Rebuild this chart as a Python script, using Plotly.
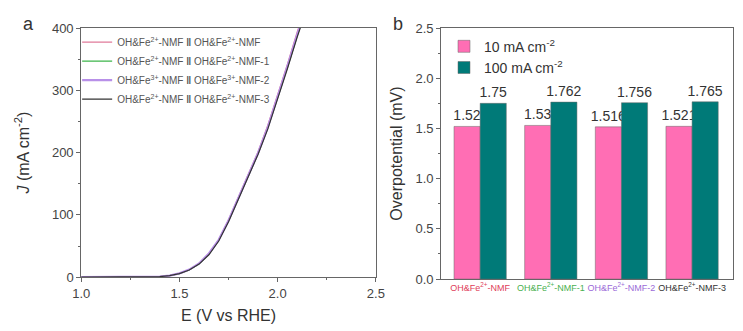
import plotly.graph_objects as go

# ---------- Data ----------
E = [1.00, 1.10, 1.20, 1.30, 1.40, 1.45, 1.50, 1.55, 1.60, 1.65, 1.70, 1.75,
     1.80, 1.85, 1.90, 1.95, 2.00, 2.05, 2.10, 2.115]
J1 = [0.0, 0.0, 0.1, 0.3, 1.0, 2.5, 6, 12, 22, 38, 60, 92, 128, 165, 201, 244, 292, 342, 394, 408]
J2 = [0.0, 0.0, 0.1, 0.3, 1.0, 2.4, 5.8, 11.6, 21, 37, 59, 90, 126, 162, 198, 240, 287, 337, 388, 402]
J3 = [0.0, 0.0, 0.1, 0.3, 1.1, 2.6, 6.1, 12.2, 22, 38, 60, 91, 127, 163, 199, 241, 289, 339, 390, 404]
J4 = [0.0, 0.0, 0.1, 0.3, 1.0, 2.4, 5.7, 11.5, 21, 36, 58, 89, 125, 161, 197, 238, 285, 335, 386, 400]

series_names = [
    "OH&Fe<sup>2+</sup>-NMF <b>‖</b> OH&Fe<sup>2+</sup>-NMF",
    "OH&Fe<sup>2+</sup>-NMF <b>‖</b> OH&Fe<sup>2+</sup>-NMF-1",
    "OH&Fe<sup>3+</sup>-NMF <b>‖</b> OH&Fe<sup>3+</sup>-NMF-2",
    "OH&Fe<sup>2+</sup>-NMF <b>‖</b> OH&Fe<sup>2+</sup>-NMF-3",
]
line_colors = ["#E07A9A", "#3DB54A", "#B890E8", "#333333"]
line_widths = [1.2, 1.2, 2.2, 1.2]

categories = ["OH&Fe<sup>2+</sup>-NMF", "OH&Fe<sup>2+</sup>-NMF-1",
              "OH&Fe<sup>2+</sup>-NMF-2", "OH&Fe<sup>2+</sup>-NMF-3"]
cat_colors = ["#E0405A", "#49B04F", "#9B6AD8", "#333333"]
eta10 = [1.52, 1.53, 1.516, 1.521]
eta100 = [1.75, 1.762, 1.756, 1.765]
bar_names = ["10 mA cm<sup>-2</sup>", "100 mA cm<sup>-2</sup>"]
bar_colors = ["#FF6EB4", "#007A78"]

fig = go.Figure()

# ---------- Panel a ----------
for J, name, c, w in zip([J1, J2, J3, J4], series_names, line_colors, line_widths):
    fig.add_trace(go.Scatter(x=E, y=J, mode="lines", name=name,
                             line=dict(color=c, width=w),
                             xaxis="x", yaxis="y", legend="legend"))

# ---------- Panel b ----------
x_idx = list(range(len(categories)))
for vals, name, c in zip([eta10, eta100], bar_names, bar_colors):
    fig.add_trace(go.Bar(x=x_idx, y=vals, name=name, marker=dict(color=c, line=dict(color="#666", width=0.5)),
                         text=[str(v) for v in vals], textposition="outside",
                         textfont=dict(size=14, color="#333"), cliponaxis=False,
                         constraintext="none",
                         xaxis="x2", yaxis="y2", legend="legend2"))

axis_common = dict(showline=True, linecolor="#666", linewidth=1, mirror=True,
                   ticks="outside", ticklen=4, tickcolor="#666",
                   tickfont=dict(family="Arial, Liberation Sans", size=13, color="#444"),
                   showgrid=False, zeroline=False)

fig.update_layout(
    width=743, height=331,
    margin=dict(l=0, r=0, t=0, b=0),
    paper_bgcolor="white", plot_bgcolor="white",
    font=dict(family="Arial, Liberation Sans", color="#333"),
    barmode="group", bargap=0.26, bargroupgap=0,
    xaxis=dict(domain=[0.0996, 0.506], range=[1.0, 2.5], tickvals=[1.0, 1.5, 2.0, 2.5],
               ticktext=["1.0", "1.5", "2.0", "2.5"],
               minor=dict(ticks="outside", ticklen=2, tickcolor="#666", dtick=0.25),
               title=dict(text="E (V vs RHE)", font=dict(size=16, color="#333"), standoff=10),
               anchor="y", **axis_common),
    yaxis=dict(domain=[0.145, 0.9335], range=[0, 400], tickvals=[0, 100, 200, 300, 400],
               minor=dict(ticks="outside", ticklen=2, tickcolor="#666", dtick=50),
               title=dict(text="<i>J</i> (mA cm<sup>-2</sup>)", font=dict(size=16, color="#333"), standoff=18),
               anchor="x", **axis_common),
    xaxis2=dict(domain=[0.596, 0.9987], range=[-0.553, 3.58], tickvals=x_idx,
                ticktext=[f'<span style="color:{c}">{t}</span>' for t, c in zip(categories, cat_colors)],
                tickangle=0, anchor="y2",
                **{**axis_common, "ticks": "", "tickfont": dict(family="Arial, Liberation Sans", size=9, color="#444")}),
    yaxis2=dict(domain=[0.139, 0.9335], range=[0, 2.5], tickvals=[0, 0.5, 1.0, 1.5, 2.0, 2.5],
                ticktext=["0.0", "0.5", "1.0", "1.5", "2.0", "2.5"],
                minor=dict(ticks="outside", ticklen=2, tickcolor="#666", dtick=0.25),
                title=dict(text="Overpotential (mV)", font=dict(size=16, color="#333"), standoff=8),
                anchor="x2", **axis_common),
    legend=dict(x=0.094, y=0.935, xanchor="left", yanchor="top", bgcolor="rgba(0,0,0,0)",
                font=dict(size=10, color="#555"), tracegroupgap=0, itemwidth=30),
    legend2=dict(x=0.600, y=0.925, xanchor="left", yanchor="top", bgcolor="rgba(0,0,0,0)",
                 font=dict(size=14, color="#333"), tracegroupgap=0),
    annotations=[
        dict(text="a", x=12 / 743, y=1 - 18 / 331, xref="paper", yref="paper", showarrow=False,
             font=dict(size=18, color="#333"), xanchor="left", yanchor="middle"),
        dict(text="b", x=391 / 743, y=1 - 18 / 331, xref="paper", yref="paper", showarrow=False,
             font=dict(size=18, color="#333"), xanchor="left", yanchor="middle"),
    ],
)

fig.write_html("out.html")
